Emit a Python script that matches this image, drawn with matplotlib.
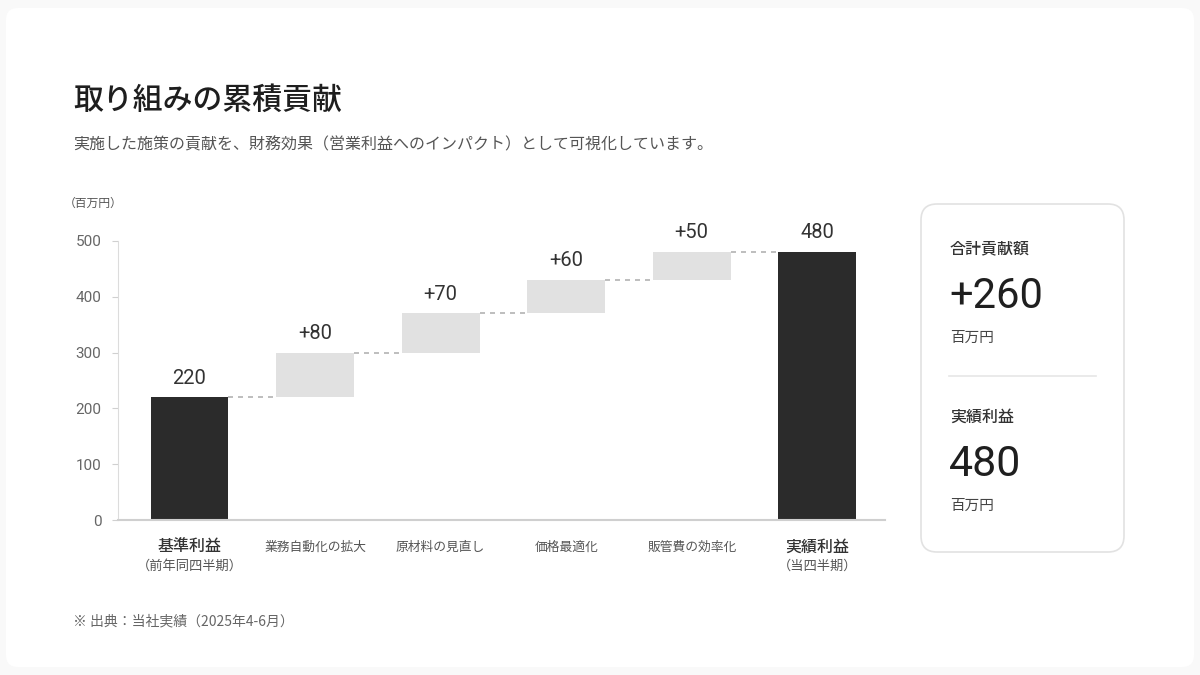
import numpy as np
import matplotlib.pyplot as plt
from matplotlib.patches import FancyBboxPatch

plt.rcParams['font.family'] = ['Noto Sans CJK JP', 'DejaVu Sans']
NUM_FONT = ['Roboto', 'DejaVu Sans']

# data (百万円)
categories = ["基準利益", "業務自動化の拡大", "原材料の見直し", "価格最適化", "販管費の効率化", "実績利益"]
sub_labels = ["（前年同四半期）", "", "", "", "", "（当四半期）"]
base_value = 220
step_values = [80, 70, 60, 50]
total_value = 480
y_ticks = [0, 100, 200, 300, 400, 500]

total_gain = sum(step_values)

W, H = 1200, 675
fig = plt.figure(figsize=(12, 6.75), dpi=100, facecolor="#f9f9f9")

# background layer in pixel coords (y down)
bg = fig.add_axes([0, 0, 1, 1], zorder=0)
bg.set_xlim(0, W)
bg.set_ylim(H, 0)
bg.axis("off")
bg.add_patch(FancyBboxPatch((6, 8), W - 12, H - 16, boxstyle="round,pad=0,rounding_size=12",
                            fc="white", ec="none"))
bg.add_patch(FancyBboxPatch((921, 204), 203, 348, boxstyle="round,pad=0,rounding_size=16",
                            fc="white", ec="#e2e2e2", lw=1.2))

# titles
bg.text(73, 100, "取り組みの累積貢献", fontsize=21.5, fontweight="medium", color="#1e1e1e", va="center")
bg.text(73, 145, "実施した施策の貢献を、財務効果（営業利益へのインパクト）として可視化しています。",
        fontsize=11.5, color="#555", va="center")
bg.text(64, 203, "（百万円）", fontsize=8.5, color="#555", va="center")
bg.text(73, 621, "※ 出典：当社実績（2025年4-6月）", fontsize=10, color="#666", va="center")

# summary card
bg.text(950, 249, "合計貢献額", fontsize=11.5, fontweight="medium", color="#333", va="center")
bg.text(949, 296, f"+{total_gain}", fontsize=30, family=NUM_FONT,
        color="#1f1f1f", va="center")
bg.text(950, 338, "百万円", fontsize=10.5, color="#444", va="center")
bg.plot([949, 1096], [376, 376], color="#e6e6e6", lw=1.2)
bg.text(950, 417, "実績利益", fontsize=11.5, fontweight="medium", color="#333", va="center")
bg.text(949, 464, f"{total_value}", fontsize=31, family=NUM_FONT,
        color="#1f1f1f", va="center")
bg.text(950, 506, "百万円", fontsize=10.5, color="#444", va="center")

# waterfall
ax = fig.add_axes([118 / W, (H - 520.3) / H, (885 - 118) / W, 279.6 / H], zorder=1)
ax.patch.set_alpha(0)

x = np.arange(len(categories))
tops = base_value + np.cumsum(step_values)
bottoms = np.concatenate([[0], tops - np.array(step_values), [0]])
heights = np.concatenate([[base_value], step_values, [total_value]])
colors = ["#2b2b2b"] + ["#e1e1e1"] * len(step_values) + ["#2b2b2b"]
bw = 0.62

ax.bar(x, heights, bottom=bottoms, width=bw, color=colors, zorder=2)

# connectors
levels = np.concatenate([[base_value], tops])
for i, lv in enumerate(levels):
    ax.plot([x[i] + bw / 2, x[i + 1] - bw / 2], [lv, lv], color="#b3b3b3", lw=1.2,
            linestyle=(0, (3, 3)), zorder=1)

# value labels
labels = [str(base_value)] + [f"+{v}" for v in step_values] + [str(total_value)]
for xi, b, h, t in zip(x, bottoms, heights, labels):
    ax.annotate(t, (xi, b + h), xytext=(0, 7), textcoords="offset points",
                ha="center", va="bottom", fontsize=14.5, family=NUM_FONT, color="#333")

# category labels
for i, (c, s) in enumerate(zip(categories, sub_labels)):
    if s:
        ax.text(x[i], -48, c, ha="center", va="center", fontsize=11.5, fontweight="medium",
                color="#333", clip_on=False)
        ax.text(x[i], -82, s, ha="center", va="center", fontsize=9.5, color="#555", clip_on=False)
    else:
        ax.text(x[i], -48, c, ha="center", va="center", fontsize=9.2, color="#555", clip_on=False)

ax.set_xlim(-0.57, 5.54)
ax.set_ylim(0, 500)
ax.set_yticks(y_ticks)
ax.set_xticks([])
ax.tick_params(axis="y", length=4, color="#d0d0d0", labelsize=11, labelcolor="#666", pad=8)
for lab in ax.get_yticklabels():
    lab.set_family(NUM_FONT)
for side in ["top", "right"]:
    ax.spines[side].set_visible(False)
ax.spines["left"].set_color("#dcdcdc")
ax.spines["bottom"].set_color("#cfcfcf")
ax.spines["bottom"].set_linewidth(1.5)

fig.savefig("out.png", dpi=100, facecolor=fig.get_facecolor())
